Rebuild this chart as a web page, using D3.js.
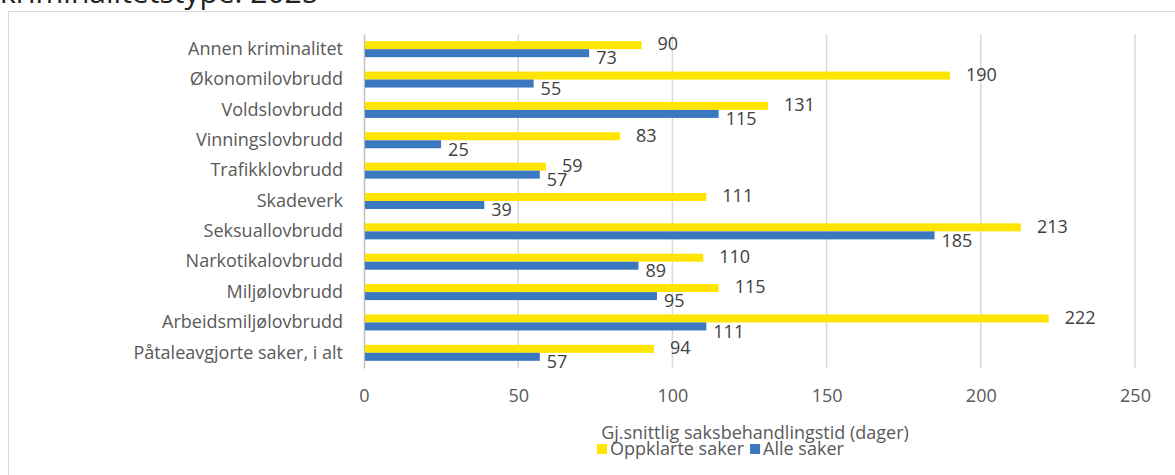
<!DOCTYPE html>
<html>
<head>
<meta charset="utf-8">
<script src="https://cdn.jsdelivr.net/npm/d3@7"></script>
<style>
  body { margin: 0; background: #fff; }
  svg { display: block; font-family: "Open Sans", "Noto Sans", sans-serif; }
</style>
</head>
<body>
<svg id="chart" width="1175" height="475"></svg>
<script>
// data, top to bottom as drawn
var categories = ["Annen kriminalitet", "Økonomilovbrudd", "Voldslovbrudd", "Vinningslovbrudd",
    "Trafikklovbrudd", "Skadeverk", "Seksuallovbrudd", "Narkotikalovbrudd", "Miljølovbrudd",
    "Arbeidsmiljølovbrudd", "Påtaleavgjorte saker, i alt"];
var oppklarte = [90, 190, 131, 83, 59, 111, 213, 110, 115, 222, 94];
var alle = [73, 55, 115, 25, 57, 39, 185, 89, 95, 111, 57];
var seriesNames = ["Oppklarte saker", "Alle saker"];
var seriesColors = ["#FFE500", "#3A78C0"];
var xTicks = [0, 50, 100, 150, 200, 250];

var fs = 18;
var svg = d3.select("#chart");

// title, only the last line is visible
svg.append("text")
    .attr("x", 0).attr("y", 3)
    .attr("font-size", 30).attr("fill", "#222")
    .text("kriminalitetstype. 2025");

// chart frame
svg.append("rect")
    .attr("x", 8.5).attr("y", 11.5)
    .attr("width", 1180).attr("height", 480)
    .attr("fill", "none").attr("stroke", "#d9d9d9");

var x = d3.scaleLinear().domain([0, 250]).range([364, 1135]);
var y = d3.scaleBand().domain(categories).range([34, 368]);
var bw = y.bandwidth();
var ys = d3.scaleBand().domain(seriesNames).range([bw / 2 - 8, bw / 2 + 8]);

// gridlines
svg.append("g").selectAll("line").data(xTicks.slice(1)).join("line")
    .attr("x1", function(d) { return x(d); }).attr("x2", function(d) { return x(d); })
    .attr("y1", 34).attr("y2", 368)
    .attr("stroke", "#d9d9d9").attr("stroke-width", 1.5);

// tick labels
var xAxis = svg.append("g")
    .attr("transform", "translate(0,368)")
    .call(d3.axisBottom(x).tickValues(xTicks).tickSize(0).tickPadding(21));
xAxis.attr("font-family", null).attr("font-size", null);
xAxis.select(".domain").remove();
xAxis.selectAll("text").attr("font-size", fs).attr("fill", "#595959");

// category axis
var yAxis = svg.append("g")
    .attr("transform", "translate(" + x(0) + ",0)")
    .call(d3.axisLeft(y).tickSize(0).tickPadding(21));
yAxis.attr("font-family", null).attr("font-size", null);
yAxis.select(".domain").attr("stroke", "#bfbfbf").attr("stroke-width", 1.5);
yAxis.selectAll("text").attr("font-size", fs).attr("fill", "#595959");

var rows = categories.map(function(c, i) {
    return { cat: c, vals: [oppklarte[i], alle[i]] };
});

var grp = svg.append("g").selectAll("g").data(rows).join("g")
    .attr("transform", function(d) { return "translate(0," + y(d.cat) + ")"; });

grp.selectAll("rect").data(function(d) {
        return d.vals.map(function(v, j) { return { s: seriesNames[j], v: v, j: j }; });
    }).join("rect")
    .attr("x", x(0) + 1)
    .attr("y", function(d) { return ys(d.s); })
    .attr("width", function(d) { return x(d.v) - x(0) - 1; })
    .attr("height", ys.bandwidth())
    .attr("fill", function(d) { return seriesColors[d.j]; });

// value labels, Excel pushes the lower one a bit down
grp.selectAll("text.val").data(function(d) {
        return d.vals.map(function(v, j) { return { s: seriesNames[j], v: v, j: j }; });
    }).join("text")
    .attr("class", "val")
    .attr("x", function(d) { return x(d.v) + (d.j === 0 ? 16 : 7); })
    .attr("y", function(d) { return ys(d.s) + ys.bandwidth() / 2 + (d.j === 0 ? -1 : 5); })
    .attr("dy", "0.35em")
    .attr("font-size", fs).attr("fill", "#404040")
    .text(function(d) { return d.v; });

// axis title
svg.append("text")
    .attr("x", 755).attr("y", 433)
    .attr("dy", "0.35em")
    .attr("text-anchor", "middle")
    .attr("font-size", fs).attr("fill", "#595959")
    .text("Gj.snittlig saksbehandlingstid (dager)");

// legend
var leg = svg.append("g").attr("transform", "translate(597,449)");
var li = leg.selectAll("g").data(seriesNames).join("g");
li.append("rect").attr("x", 0).attr("y", -5).attr("width", 10).attr("height", 10)
    .attr("fill", function(d, i) { return seriesColors[i]; });
li.append("text").attr("x", 13).attr("dy", "0.35em")
    .attr("font-size", fs).attr("fill", "#595959")
    .text(function(d) { return d; });
var off = 0;
li.each(function() {
    d3.select(this).attr("transform", "translate(" + off + ",0)");
    off += 13 + d3.select(this).select("text").node().getComputedTextLength() + 6;
});
</script>
</body>
</html>
